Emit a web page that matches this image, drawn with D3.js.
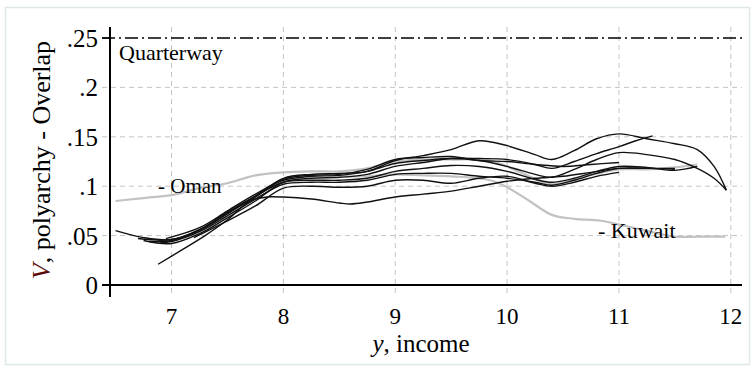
<!DOCTYPE html>
<html>
<head>
<meta charset="utf-8">
<script src="https://cdn.jsdelivr.net/npm/d3@7"></script>
<style>
  body { margin: 0; background: #fff; }
  text { font-family: "Liberation Serif", "Times New Roman", Times, serif; fill: #000; }
</style>
</head>
<body>
<svg></svg>
<script>
const width = 756;
const height = 372;

// tick labels
const xTicks = [7, 8, 9, 10, 11, 12];
const yTicks = [0, .05, .1, .15, .2, .25];
const yTickLabels = ['0', '.05', '.1', '.15', '.2', '.25'];
const quarterway = .25;

// series: [income, overlap] pairs
const black1 = [[6.5,.055],[6.75,.048],[7,.046],[7.25,.055],[7.5,.072],[7.75,.09],[8,.108],[8.25,.112],[8.5,.113],[8.75,.115],[9,.126],[9.25,.131],[9.5,.137],[9.75,.146],[10,.141],[10.25,.132],[10.4,.127],[10.6,.136],[10.8,.148],[11,.153],[11.25,.148],[11.5,.143],[11.7,.137],[11.85,.12],[11.96,.096]];
const black2 = [[6.75,.045],[7,.042],[7.25,.052],[7.5,.068],[7.75,.085],[8,.104],[8.25,.108],[8.5,.109],[8.75,.112],[9,.12],[9.25,.124],[9.5,.128],[9.75,.128],[10,.127],[10.25,.122],[10.4,.118],[10.6,.125],[10.8,.133],[11,.14],[11.15,.146],[11.3,.151]];
const black3 = [[6.95,.047],[7.25,.058],[7.5,.075],[7.75,.092],[8,.106],[8.25,.11],[8.5,.111],[8.75,.115],[9,.123],[9.25,.126],[9.5,.128],[9.75,.126],[10,.12],[10.25,.112],[10.4,.109],[10.6,.117],[10.8,.127],[11,.134],[11.25,.132],[11.5,.127],[11.7,.118],[11.85,.108],[11.96,.096]];
const black4 = [[6.8,.044],[7,.045],[7.25,.056],[7.5,.074],[7.75,.09],[8,.104],[8.25,.106],[8.5,.106],[8.75,.108],[9,.115],[9.25,.118],[9.5,.121],[9.75,.12],[10,.115],[10.25,.107],[10.4,.104],[10.6,.108],[10.8,.115],[11,.12],[11.25,.119],[11.5,.116],[11.7,.12]];
const black5 = [[6.9,.043],[7,.044],[7.25,.054],[7.5,.07],[7.75,.087],[8,.102],[8.25,.104],[8.5,.104],[8.75,.106],[9,.112],[9.25,.113],[9.5,.113],[9.75,.11],[10,.108],[10.25,.104],[10.4,.101],[10.6,.106],[10.8,.113],[11,.118],[11.25,.118],[11.5,.117]];
const black6 = [[6.88,.021],[7.1,.036],[7.3,.05],[7.5,.066],[7.7,.085],[7.85,.089],[8,.089],[8.25,.087],[8.5,.083],[8.6,.082],[8.75,.084],[9,.089],[9.25,.092],[9.5,.095],[9.75,.1],[10,.105],[10.25,.108],[10.5,.11],[10.75,.114],[11,.118],[11.25,.118],[11.5,.118]];
const black7 = [[7.2,.048],[7.5,.065],[7.75,.08],[8,.098],[8.25,.1],[8.5,.099],[8.75,.1],[9,.106],[9.25,.106],[9.5,.103],[9.75,.108],[10,.11],[10.25,.103],[10.4,.1],[10.6,.104],[10.8,.11],[11,.114]];
const black8 = [[6.7,.047],[7,.046],[7.25,.056],[7.5,.073],[7.75,.089],[8,.107],[8.25,.111],[8.5,.112],[8.75,.117],[9,.127],[9.25,.129],[9.5,.13],[9.75,.126],[10,.125],[10.25,.122],[10.5,.12],[10.75,.122],[11,.124]];
const oman = [[6.5,.085],[6.75,.088],[7,.091],[7.25,.098],[7.5,.103],[7.75,.111],[8,.114],[8.25,.115],[8.5,.115],[8.75,.118],[9,.125],[9.25,.127],[9.5,.127],[9.85,.126],[10.1,.115],[10.4,.102],[10.7,.11],[11,.117],[11.25,.117],[11.5,.119],[11.7,.122]];
const kuwait = [[8.5,.11],[8.75,.11],[9,.112],[9.25,.111],[9.5,.11],[9.85,.106],[10,.099],[10.2,.085],[10.4,.071],[10.6,.067],[10.84,.065],[11.2,.056],[11.5,.049],[11.7,.049],[11.95,.049]];

const blackSeries = [black1, black2, black3, black4, black5, black6, black7, black8];
const graySeries = [oman, kuwait];

const svg = d3.select('svg')
    .attr('width', width)
    .attr('height', height);

// outer frame
svg.append('rect')
    .attr('x', 5.5)
    .attr('y', 7.5)
    .attr('width', 744)
    .attr('height', 357)
    .attr('fill', 'none')
    .attr('stroke', '#dfe8e8')
    .attr('stroke-width', 1.5);

const x = d3.scaleLinear().domain([6.45, 12.1]).range([110, 742]);
const y = d3.scaleLinear().domain([0, .25]).range([285, 38]);

const plotTop = 27, plotBottom = 297, gridLeft = 102, plotRight = 742;

// gridlines
svg.append('g')
    .selectAll('line')
    .data(xTicks)
    .join('line')
    .attr('x1', d => x(d)).attr('x2', d => x(d))
    .attr('y1', plotTop).attr('y2', plotBottom)
    .attr('stroke', '#c4c4c4')
    .attr('stroke-dasharray', '5,4');

svg.append('g')
    .selectAll('line')
    .data(yTicks.filter(d => d > 0 && d < quarterway))
    .join('line')
    .attr('x1', gridLeft).attr('x2', plotRight)
    .attr('y1', d => y(d)).attr('y2', d => y(d))
    .attr('stroke', '#c4c4c4')
    .attr('stroke-dasharray', '5,4');

// quarterway reference line
svg.append('line')
    .attr('x1', gridLeft).attr('x2', plotRight)
    .attr('y1', y(quarterway)).attr('y2', y(quarterway))
    .attr('stroke', '#000')
    .attr('stroke-width', 1.3)
    .attr('stroke-dasharray', '13,4,2,4');

const line = d3.line()
    .x(d => x(d[0]))
    .y(d => y(d[1]))
    .curve(d3.curveCatmullRom.alpha(0.5));

svg.append('g')
    .selectAll('path')
    .data(graySeries)
    .join('path')
    .attr('d', line)
    .attr('fill', 'none')
    .attr('stroke', '#c2c2c2')
    .attr('stroke-width', 2.2);

svg.append('g')
    .selectAll('path')
    .data(blackSeries)
    .join('path')
    .attr('d', line)
    .attr('fill', 'none')
    .attr('stroke', '#111')
    .attr('stroke-width', 1.4);

// axes
svg.append('line')
    .attr('x1', x.range()[0]).attr('x2', x.range()[0])
    .attr('y1', plotTop).attr('y2', plotBottom)
    .attr('stroke', '#000')
    .attr('stroke-width', 2);

svg.append('line')
    .attr('x1', gridLeft).attr('x2', plotRight)
    .attr('y1', y(0)).attr('y2', y(0))
    .attr('stroke', '#000')
    .attr('stroke-width', 2);

svg.append('line')
    .attr('x1', gridLeft).attr('x2', x.range()[0])
    .attr('y1', y(quarterway)).attr('y2', y(quarterway))
    .attr('stroke', '#000')
    .attr('stroke-width', 1.3);

// tick labels
svg.append('g')
    .selectAll('text')
    .data(yTicks)
    .join('text')
    .attr('x', 98)
    .attr('y', d => y(d) + 9)
    .attr('text-anchor', 'end')
    .style('font-size', '25px')
    .text((d, i) => yTickLabels[i]);

svg.append('g')
    .selectAll('text')
    .data(xTicks)
    .join('text')
    .attr('x', d => x(d))
    .attr('y', 324)
    .attr('text-anchor', 'middle')
    .style('font-size', '23px')
    .text(d => d);

// axis titles
const xTitle = svg.append('text')
    .attr('x', 421)
    .attr('y', 352)
    .attr('text-anchor', 'middle')
    .style('font-size', '25px');
xTitle.append('tspan').style('font-style', 'italic').text('y');
xTitle.append('tspan').text(', income');

const yTitle = svg.append('text')
    .attr('transform', 'translate(50,160) rotate(-90)')
    .attr('text-anchor', 'middle')
    .style('font-size', '26px');
yTitle.append('tspan').style('font-style', 'italic').style('fill', '#5a0a0a').text('V');
yTitle.append('tspan').text(', polyarchy - Overlap');

// annotations
svg.append('text')
    .attr('x', 119)
    .attr('y', 60)
    .style('font-size', '22px')
    .text('Quarterway');

svg.append('text')
    .attr('x', 158)
    .attr('y', y(.1) + 7)
    .style('font-size', '21px')
    .text('- Oman');

svg.append('text')
    .attr('x', 598)
    .attr('y', 238)
    .style('font-size', '22px')
    .text('- Kuwait');
</script>
</body>
</html>
